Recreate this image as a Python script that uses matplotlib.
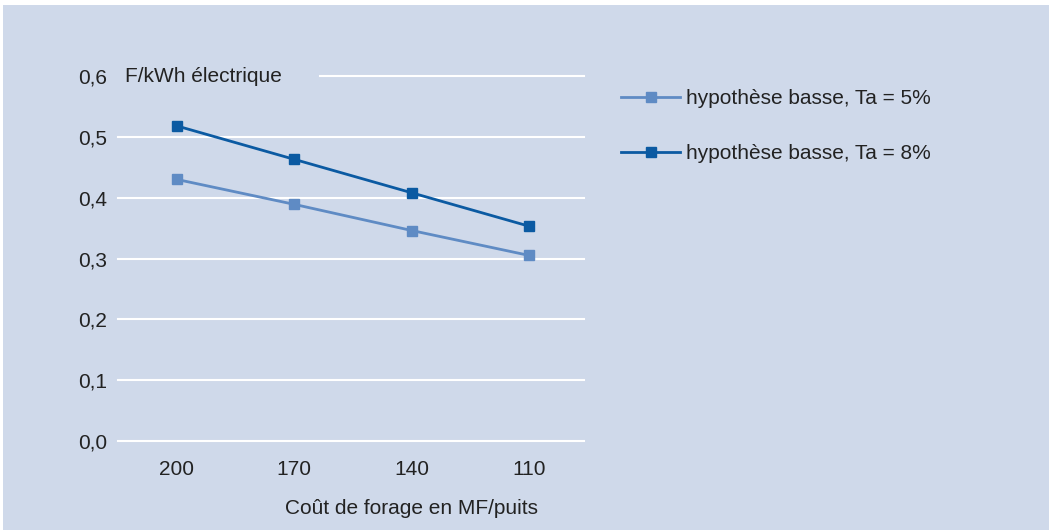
import matplotlib.pyplot as plt
from matplotlib.patches import Rectangle

plt.rcParams['font.family'] = ['Liberation Sans', 'DejaVu Sans']

# data
categories = ['200', '170', '140', '110']
ta5 = [0.43, 0.389, 0.346, 0.305]
ta8 = [0.518, 0.463, 0.408, 0.353]
yticks = [0.0, 0.1, 0.2, 0.3, 0.4, 0.5, 0.6]

bg = '#CFD9EA'
c_light = '#5F8BC4'
c_dark = '#0B5AA2'
txt = '#222222'
fs = 15

fig = plt.figure(figsize=(10.49, 5.30), dpi=100, facecolor='white')
fig.patches.append(Rectangle((3 / 1049, 0), 1, 1 - 5 / 530, transform=fig.transFigure,
                             facecolor=bg, edgecolor='none', zorder=-1))

ax = fig.add_axes([118 / 1049, 1 - 441 / 530, (588 - 118) / 1049, (441 - 76) / 530])
ax.set_zorder(1)
ax.set_facecolor('none')
for s in ax.spines.values():
    s.set_visible(False)

x = [i + 0.5 for i in range(len(categories))]
ax.set_xlim(0, 4)
ax.set_ylim(0, 0.6)

# gridlines (the top one starts after the unit label)
for v in yticks:
    x0 = 1.72 if v == 0.6 else 0
    ax.plot([x0, 3.97], [v, v], color='white', lw=1.5, zorder=1, clip_on=False)

l1, = ax.plot(x, ta5, color=c_light, lw=2, marker='s', ms=7.5, zorder=3, clip_on=False)
l2, = ax.plot(x, ta8, color=c_dark, lw=2, marker='s', ms=7.5, zorder=3, clip_on=False)

ax.set_xticks(x)
ax.set_xticklabels(categories)
ax.set_yticks(yticks)
ax.set_yticklabels([f'{v:.1f}'.replace('.', ',') for v in yticks])
ax.tick_params(length=0, labelsize=fs, colors=txt)
ax.tick_params(axis='x', pad=14)
ax.tick_params(axis='y', pad=8)

ax.text(0.06, 0.6, 'F/kWh électrique', fontsize=fs, color=txt, va='center', ha='left')
ax.text(2.5 / 4, -0.184, 'Coût de forage en MF/puits', fontsize=fs, color=txt,
        ha='center', va='center', transform=ax.transAxes)

fig.legend([l1, l2], ['hypothèse basse, Ta = 5%', 'hypothèse basse, Ta = 8%'],
           loc='upper left', bbox_to_anchor=(611 / 1049, 1 - 79 / 530), borderpad=0,
           frameon=False, fontsize=fs, labelspacing=1.72, handlelength=2.8,
           handletextpad=0.3, labelcolor=txt)

fig.savefig('out.png', dpi=100, facecolor='white')
